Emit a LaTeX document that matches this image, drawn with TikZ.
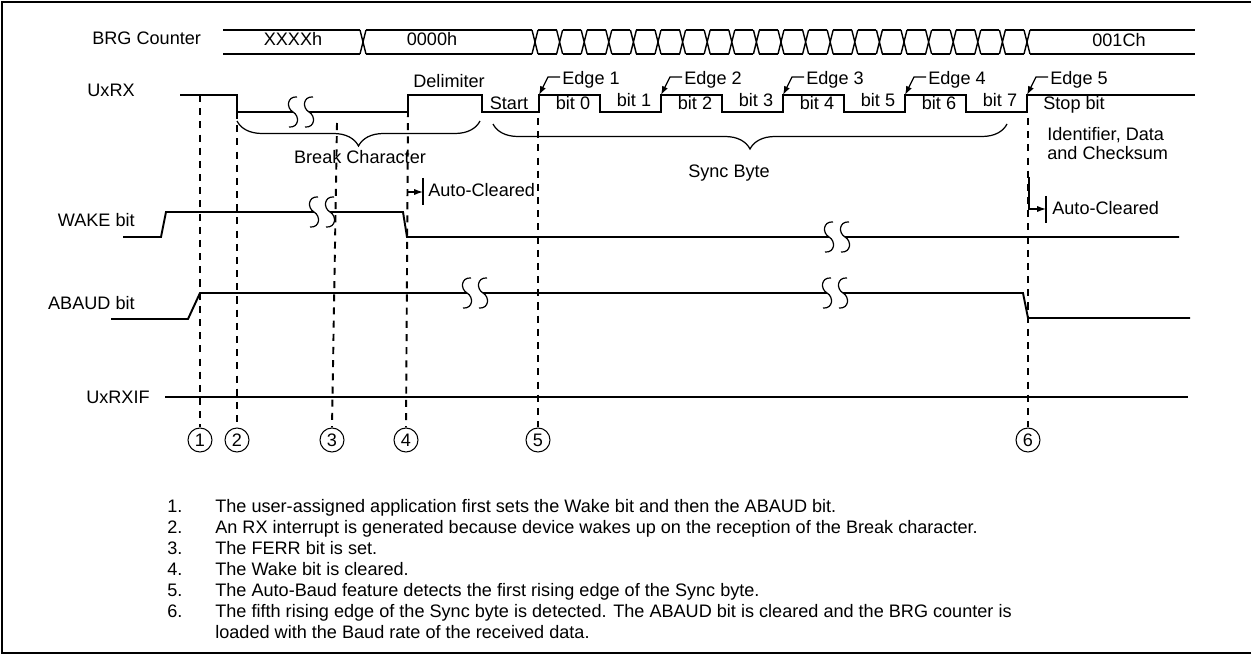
\documentclass[tikz,border=0pt]{standalone}
\usepackage{fontspec}
\setmainfont{Liberation Sans}
\usetikzlibrary{arrows.meta,decorations.pathreplacing}

\tikzset{
  sig/.style={line width=1.1pt},
  bus/.style={line width=0.8pt},
  thinsig/.style={line width=0.6pt},
  guide/.style={line width=1.1pt, dash pattern=on 4pt off 3.5pt},
  ptr/.style={line width=0.7pt, -{Latex[length=5pt,width=3.5pt]}},
  brc/.style={line width=0.7pt, decorate, decoration={brace, amplitude=0.5cm}},
  stepnum/.style={circle, draw, line width=0.6pt, minimum size=0.48cm, inner sep=0pt}
}

% break mark on a signal line: x, y
\newcommand{\squig}[2]{%
  \fill[white] ({#1-8},{#2-3}) rectangle ({#1+8},{#2+3});
  \foreach \dx in {-8,8}{
    \draw[line width=0.7pt] ({#1+\dx+4},{#2-15}) .. controls ({#1+\dx-6},{#2-16}) and ({#1+\dx-7},{#2-4}) .. ({#1+\dx},{#2})
      .. controls ({#1+\dx+7},{#2+4}) and ({#1+\dx+6},{#2+16}) .. ({#1+\dx-4},{#2+15});
  }}

\begin{document}
\begin{tikzpicture}[x=0.02cm, y=-0.02cm, every node/.style={inner sep=0pt, font=\fontsize{10.3}{12.4}\selectfont}]
  \useasboundingbox (0,0) rectangle (1251,655);
  % frame
  \draw[line width=1pt] (1251,2) -- (2,2) -- (2,653) -- (1251,653);

  % signal names
  \node[anchor=base west] (lbrg) at (92,45) {BRG Counter};
  \node[anchor=base east] (luxrx) at (135,97) {UxRX};
  \node[anchor=base east] (lwake) at (135,227) {WAKE bit};
  \node[anchor=base east] (labaud) at (135,310) {ABAUD bit};
  \node[anchor=base east] (lrxif) at (150,403) {UxRXIF};

  % BRG Counter bus
  \draw[bus] (223,30) -- (360,30) (223,54) -- (360,54);
  \draw[bus] (360,30) -- (366,54) (360,54) -- (366,30);
  \draw[bus] (366,30) -- (532,30) (366,54) -- (532,54);
  \foreach \k in {0,...,20}{
    \pgfmathsetmacro\xb{535+24.6*\k}
    \draw[bus] (\xb-3,30) -- (\xb+3,54) (\xb-3,54) -- (\xb+3,30);
  }
  \foreach \k in {0,...,19}{
    \pgfmathsetmacro\xb{535+24.6*\k}
    \draw[bus] (\xb+3,30) -- (\xb+21.6,30) (\xb+3,54) -- (\xb+21.6,54);
  }
  \draw[bus] (1030,30) -- (1195,30) (1030,54) -- (1195,54);
  \node[anchor=base] (vx) at (293,46) {XXXXh};
  \node[anchor=base] (v0) at (432,46) {0000h};
  \node[anchor=base] (v1c) at (1119,47) {001Ch};

  % UxRX
  \draw[sig] (180,95) -- (237,95) -- (237,112) -- (408,112) -- (408,95) -- (482,95) -- (482,112)
    -- (539,112) -- (539,95) -- (600,95) -- (600,112) -- (661,112) -- (661,95) -- (722,95) -- (722,112)
    -- (783,112) -- (783,95) -- (844,95) -- (844,112) -- (905,112) -- (905,95) -- (966,95) -- (966,112)
    -- (1027,112) -- (1027,95) -- (1195,95);
  \squig{301}{112}
  \node[anchor=base west] (dlm) at (413,88) {Delimiter};
  \node[anchor=base] (stt) at (509,110) {Start};
  \foreach \i in {0,2,4,6}
    \node[anchor=base] (b\i) at (573+61*\i,110) {bit \i};
  \foreach \i in {1,3,5,7}
    \node[anchor=base] (b\i) at (573+61*\i,107) {bit \i};
  \node[anchor=base west] (stp) at (1043,110) {Stop bit};
  \foreach \k/\xr in {1/539, 2/661, 3/783, 4/905, 5/1027}{
    \coordinate (r\k) at (\xr,95);
    \node[anchor=base west] (e\k) at (\xr+23,85) {Edge \k};
    \draw[ptr] (\xr+21,77) -- (\xr+9,77) -- (r\k);
  }

  % braces
  \draw[brc] (480,121) -- (237,121);
  \node[anchor=base] (brk) at (360,164) {Break Character};
  \draw[brc] (1007,124) -- (493,124);
  \node[anchor=base] (syn) at (729,178) {Sync Byte};
  \node[anchor=north west, align=left, font=\fontsize{10.3}{10.8}\selectfont] (idn) at (1047,127) {Identifier, Data\\and Checksum};

  % auto-cleared marks
  \coordinate (a1) at (408,192);
  \coordinate (a1e) at (423,192);
  \draw[ptr] (a1) -- (a1e);
  \draw[thinsig] (423,178) -- (423,205);
  \node[anchor=base west] (ac1) at (428,197) {Auto-Cleared};
  \coordinate (a2) at (1029,177);
  \coordinate (a2e) at (1046,209);
  \draw[ptr] (a2) -- (1029,209) -- (a2e);
  \draw[thinsig] (1046,196) -- (1046,223);
  \node[anchor=base west] (ac2) at (1052,215) {Auto-Cleared};

  % WAKE bit
  \draw[sig] (123,237) -- (161,237) -- (166,212) -- (403,212) -- (407,237) -- (1179,237);
  \squig{322}{212}
  \squig{837}{237}

  % ABAUD bit
  \draw[sig] (111,319) -- (188,319) -- (200,293) -- (1023,293) -- (1028,318) -- (1190,318);
  \squig{475}{293}
  \squig{835}{293}

  % UxRXIF
  \draw[thinsig] (165,397) -- (1188,397);

  % event markers
  \node[stepnum] (n1) at (200,440) {1};
  \node[stepnum] (n2) at (237,440) {2};
  \node[stepnum] (n3) at (332,440) {3};
  \node[stepnum] (n4) at (406,440) {4};
  \node[stepnum] (n5) at (538,440) {5};
  \node[stepnum] (n6) at (1028,440) {6};
  \coordinate (g1) at (200,95);
  \coordinate (g2) at (237,112);
  \coordinate (g3) at (337,123);
  \coordinate (g4) at (408,110);
  \coordinate (g5) at (538,118);
  \coordinate (g6) at (1028,118);
  \foreach \i in {1,...,6}
    \draw[guide] (g\i) -- (n\i.north);

  % notes
  \node[anchor=base west] (m1) at (167,512) {1.};
  \node[anchor=base west] (t1) at (215,512) {The user-assigned application first sets the Wake bit and then the ABAUD bit.};
  \node[anchor=base west] (m2) at (167,533) {2.};
  \node[anchor=base west] (t2) at (215,533) {An RX interrupt is generated because device wakes up on the reception of the Break character.};
  \node[anchor=base west] (m3) at (167,554) {3.};
  \node[anchor=base west] (t3) at (215,554) {The FERR bit is set.};
  \node[anchor=base west] (m4) at (167,575) {4.};
  \node[anchor=base west] (t4) at (215,575) {The Wake bit is cleared.};
  \node[anchor=base west] (m5) at (167,596) {5.};
  \node[anchor=base west] (t5) at (215,596) {The Auto-Baud feature detects the first rising edge of the Sync byte.};
  \node[anchor=base west] (m6) at (167,617) {6.};
  \node[anchor=base west] (t6) at (215,617) {The fifth rising edge of the Sync byte is detected. The ABAUD bit is cleared and the BRG counter is};
  \node[anchor=base west] (t7) at (215,638) {loaded with the Baud rate of the received data.};
\end{tikzpicture}
\end{document}
